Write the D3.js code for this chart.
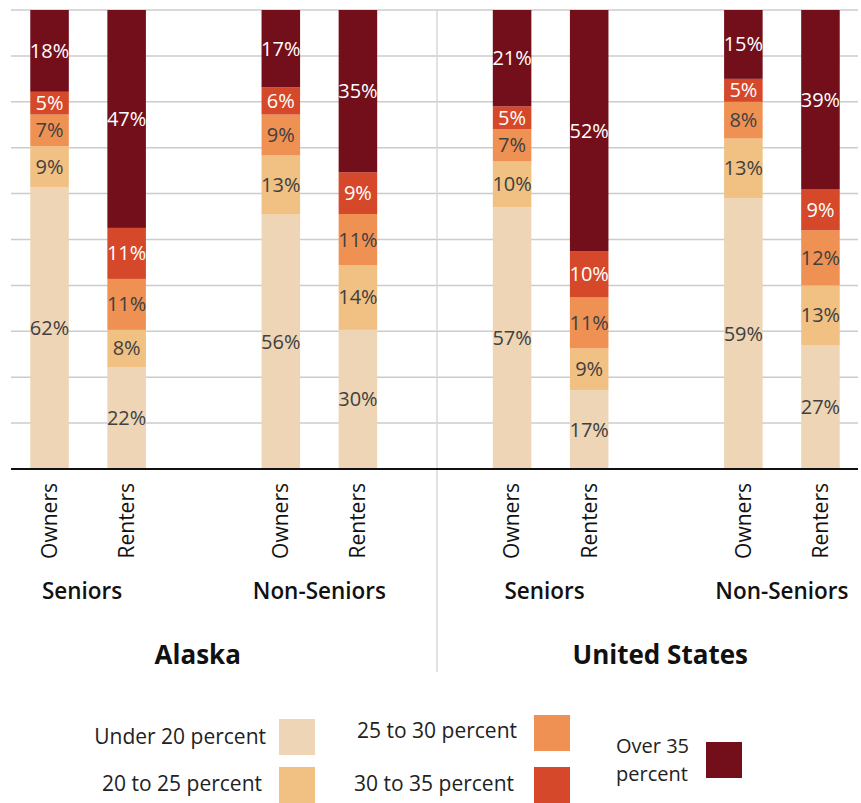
<!DOCTYPE html>
<html>
<head>
<meta charset="utf-8">
<script src="https://cdn.jsdelivr.net/npm/d3@7"></script>
<style>
  body { margin: 0; background: #fff; }
  svg { display: block; font-family: "Open Sans", sans-serif; }
</style>
</head>
<body>
<div id="chart"></div>
<script>
// chart data: share of households by housing cost burden
var regions = ["Alaska", "United States"];
var groups = ["Seniors", "Non-Seniors"];
var tenures = ["Owners", "Renters"];
var bands = ["Under 20 percent", "20 to 25 percent", "25 to 30 percent", "30 to 35 percent", "Over 35 percent"];

// one array per bar, bottom to top (bands order)
var akSeniorOwners    = [62, 9, 7, 5, 18];
var akSeniorRenters   = [22, 8, 11, 11, 47];
var akNonSeniorOwners = [56, 13, 9, 6, 17];
var akNonSeniorRenters= [30, 14, 11, 9, 35];
var usSeniorOwners    = [57, 10, 7, 5, 21];
var usSeniorRenters   = [17, 9, 11, 10, 52];
var usNonSeniorOwners = [59, 13, 8, 5, 15];
var usNonSeniorRenters= [27, 13, 12, 9, 39];

var yTicks = [0, 10, 20, 30, 40, 50, 60, 70, 80, 90, 100];

var colors = ["#edd5b6", "#f0c183", "#ef9153", "#d5482a", "#730f1a"];
var labelColors = ["#404040", "#404040", "#404040", "#ffffff", "#ffffff"];

var W = 861, H = 803;
var margin = {top: 10, left: 11, right: 1},
    baseY = 469;

var svg = d3.select("#chart").append("svg")
    .attr("width", W)
    .attr("height", H);

// build rows
var barValues = [akSeniorOwners, akSeniorRenters, akNonSeniorOwners, akNonSeniorRenters,
                 usSeniorOwners, usSeniorRenters, usNonSeniorOwners, usNonSeniorRenters];
var rows = [];
var slots = [];
var i = 0;
regions.forEach(function(r, ri) {
  groups.forEach(function(g, gi) {
    tenures.forEach(function(t) {
      var row = {key: r + "|" + g + "|" + t, region: r, group: g, tenure: t};
      bands.forEach(function(b, bi) { row[b] = barValues[i][bi]; });
      rows.push(row);
      slots.push(row.key);
      i++;
    });
    if (!(ri == regions.length - 1 && gi == groups.length - 1)) slots.push("gap" + ri + gi);
  });
});

var x = d3.scaleBand()
    .domain(slots)
    .range([margin.left, W - margin.right - 1])
    .paddingInner(0.5)
    .paddingOuter(0.25);

var y = d3.scaleLinear()
    .domain([0, 1])
    .range([baseY, margin.top]);

var yPct = d3.scaleLinear().domain([0, 100]).range([baseY, margin.top]);

// gridlines
svg.append("g")
  .selectAll("line")
  .data(yTicks.slice(1))
  .enter().append("line")
    .attr("x1", margin.left)
    .attr("x2", W - margin.right - 2)
    .attr("y1", function(d) { return yPct(d); })
    .attr("y2", function(d) { return yPct(d); })
    .attr("stroke", "#cccccc")
    .attr("stroke-width", 1.5);

// divider between regions
var divX = x("gap01") + x.bandwidth() / 2 + 2;
svg.append("line")
    .attr("x1", divX).attr("x2", divX)
    .attr("y1", margin.top).attr("y2", 672)
    .attr("stroke", "#d9d9d9")
    .attr("stroke-width", 1.5);

var stack = d3.stack().keys(bands).offset(d3.stackOffsetExpand);
var series = stack(rows);

var layer = svg.append("g").selectAll("g")
  .data(series)
  .enter().append("g")
    .attr("fill", function(d, k) { return colors[k]; });

layer.selectAll("rect")
  .data(function(d) { return d; })
  .enter().append("rect")
    .attr("x", function(d) { return x(d.data.key); })
    .attr("width", x.bandwidth())
    .attr("y", function(d) { return y(d[1]); })
    .attr("height", function(d) { return y(d[0]) - y(d[1]); });

// value labels
series.forEach(function(s, k) {
  svg.append("g").selectAll("text")
    .data(s)
    .enter().append("text")
      .attr("x", function(d) { return x(d.data.key) + x.bandwidth() / 2; })
      .attr("y", function(d) { return (y(d[0]) + y(d[1])) / 2; })
      .attr("dy", "0.35em")
      .attr("text-anchor", "middle")
      .attr("font-size", 20)
      .attr("fill", labelColors[k])
      .text(function(d) { return d.data[s.key] + "%"; });
});

// baseline
svg.append("line")
    .attr("x1", margin.left).attr("x2", W - margin.right - 2)
    .attr("y1", baseY).attr("y2", baseY)
    .attr("stroke", "#111")
    .attr("stroke-width", 2);

// tenure labels (rotated)
svg.append("g").selectAll("text")
  .data(rows)
  .enter().append("text")
    .attr("transform", function(d) {
      return "translate(" + (x(d.key) + x.bandwidth() / 2) + ",483) rotate(-90)";
    })
    .attr("dy", "0.35em")
    .attr("text-anchor", "end")
    .attr("font-size", 21)
    .attr("fill", "#111")
    .text(function(d) { return d.tenure; });

// group labels
var groupShift = [-6, 0];
var groupRows = rows.filter(function(d) { return d.tenure == tenures[0]; });
svg.append("g").selectAll("text")
  .data(groupRows)
  .enter().append("text")
    .attr("x", function(d) {
      var k2 = d.region + "|" + d.group + "|" + tenures[1];
      return (x(d.key) + x(k2)) / 2 + x.bandwidth() / 2 + groupShift[groups.indexOf(d.group)];
    })
    .attr("y", 599)
    .attr("text-anchor", "middle")
    .attr("font-size", 22.5)
    .attr("font-weight", 600)
    .attr("fill", "#111")
    .text(function(d) { return d.group; });

// region labels
svg.append("g").selectAll("text")
  .data(regions)
  .enter().append("text")
    .attr("x", function(r) {
      var a = x(r + "|" + groups[0] + "|" + tenures[0]);
      var b = x(r + "|" + groups[1] + "|" + tenures[1]);
      return (a + b) / 2 + x.bandwidth() / 2 - 6;
    })
    .attr("y", 664)
    .attr("text-anchor", "middle")
    .attr("font-size", 26)
    .attr("font-weight", 700)
    .attr("fill", "#111")
    .text(function(r) { return r; });

// legend
var legendPos = [
  {sx: 279, sy: 719, tx: 266, ty: [737]},
  {sx: 279, sy: 767, tx: 262, ty: [784]},
  {sx: 534, sy: 715, tx: 517, ty: [731]},
  {sx: 534, sy: 767, tx: 514, ty: [784]},
  {sx: 706, sy: 742, ty: [746, 774], left: 616}
];
var legendText = [["Under 20 percent"], ["20 to 25 percent"], ["25 to 30 percent"], ["30 to 35 percent"], ["Over 35", "percent"]];

var leg = svg.append("g").selectAll("g")
  .data(bands)
  .enter().append("g");

leg.append("rect")
    .attr("x", function(d, k) { return legendPos[k].sx; })
    .attr("y", function(d, k) { return legendPos[k].sy; })
    .attr("width", 36)
    .attr("height", 36)
    .attr("fill", function(d, k) { return colors[k]; });

leg.each(function(d, k) {
  var p = legendPos[k];
  legendText[k].forEach(function(line, li) {
    d3.select(this).append("text")
      .attr("x", p.left != null ? p.left : p.tx)
      .attr("y", p.ty[li])
      .attr("dy", "0.35em")
      .attr("text-anchor", p.left != null ? "start" : "end")
      .attr("font-size", p.left != null ? 20 : 21)
      .attr("fill", "#222")
      .text(line);
  }, this);
});
</script>
</body>
</html>
